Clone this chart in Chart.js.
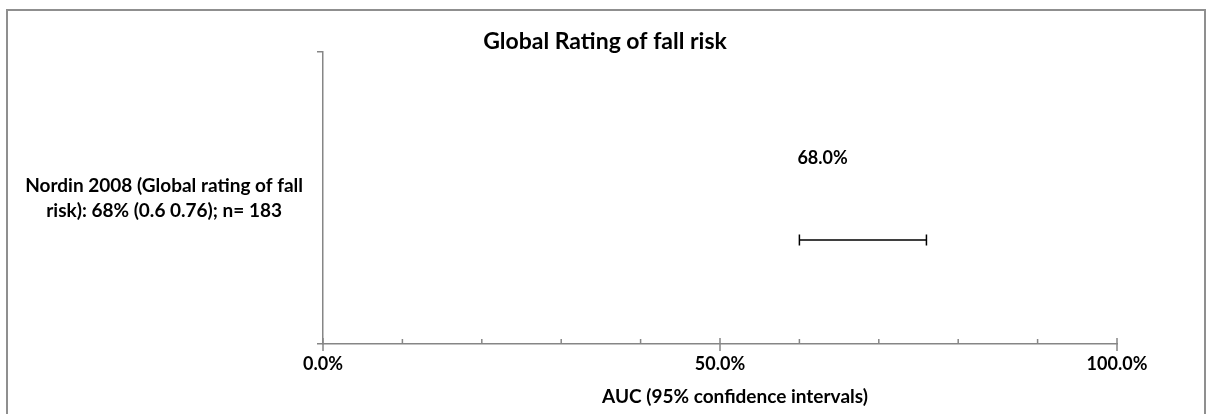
<!DOCTYPE html>
<html>
<head>
<meta charset="utf-8">
<script src="https://cdn.jsdelivr.net/npm/chart.js@4.4.1/dist/chart.umd.min.js"></script>
<style>
  html, body { margin: 0; padding: 0; background: #ffffff; }
  #wrap { width: 1210px; height: 414px; position: relative; }
</style>
</head>
<body>
<div id="wrap"><canvas id="chart" width="1210" height="414"></canvas></div>
<script>
// Study rows (multi-line y labels), AUC point estimates and 95% CI bounds
const categories = [['Nordin 2008 (Global rating of fall', 'risk): 68% (0.6 0.76); n= 183']];
const aucValues = [0.68];
const ciLower = [0.60];
const ciUpper = [0.76];

// Labelled x ticks; unlabelled minor ticks every 10%
const xTickValues = [0, 0.5, 1];
const xTickLabels = ['0.0%', '50.0%', '100.0%'];
const xMinorStep = 0.1;
const xAxisTitle = 'AUC (95% confidence intervals)';

const FONT = 'Lato, "Open Sans", sans-serif';
const AXIS_GREY = '#868686';

// Frame, CI whiskers, value labels, x tick marks and x axis title
const forestDecor = {
  id: 'forestDecor',
  beforeDraw(chart) {
    const ctx = chart.ctx;
    ctx.save();
    ctx.fillStyle = '#ffffff';
    ctx.fillRect(0, 0, chart.width, chart.height);
    ctx.strokeStyle = '#8f8f8f';
    ctx.lineWidth = 2;
    ctx.strokeRect(7, 10, 1198, 420);
    ctx.restore();
  },
  afterDatasetsDraw(chart, args, opts) {
    const ctx = chart.ctx;
    const xs = chart.scales.x;
    const ys = chart.scales.y;
    ctx.save();
    categories.forEach((_, i) => {
      const cy = ys.getPixelForValue(i);
      const wy = cy + opts.whiskerOffset;
      const x1 = xs.getPixelForValue(ciLower[i]);
      const x2 = xs.getPixelForValue(ciUpper[i]);
      ctx.strokeStyle = '#000000';
      ctx.lineWidth = 1.5;
      ctx.beginPath();
      ctx.moveTo(x1, wy); ctx.lineTo(x2, wy);
      ctx.moveTo(x1, wy - opts.capHalf); ctx.lineTo(x1, wy + opts.capHalf);
      ctx.moveTo(x2, wy - opts.capHalf); ctx.lineTo(x2, wy + opts.capHalf);
      ctx.stroke();

      ctx.fillStyle = '#000000';
      ctx.font = 'bold 18px ' + FONT;
      ctx.textAlign = 'left';
      ctx.textBaseline = 'middle';
      ctx.fillText((aucValues[i] * 100).toFixed(1) + '%', x1 - 2, cy + opts.labelOffset);
    });

    // x tick marks: labelled ones cross the axis, minor ones sit inside
    const base = xs.top;
    ctx.strokeStyle = AXIS_GREY;
    ctx.lineWidth = 1.5;
    ctx.beginPath();
    xs.ticks.forEach(t => {
      const px = xs.getPixelForValue(t.value);
      const major = xTickValues.some(v => Math.abs(v - t.value) < 1e-9);
      if (major) { ctx.moveTo(px, base - 6); ctx.lineTo(px, base + 7); }
      else { ctx.moveTo(px, base - 5); ctx.lineTo(px, base); }
    });
    ctx.stroke();

    // axis title, set slightly right of the plot centre
    ctx.fillStyle = '#000000';
    ctx.font = 'bold 19px ' + FONT;
    ctx.textAlign = 'center';
    ctx.textBaseline = 'middle';
    ctx.fillText(xAxisTitle, (xs.left + xs.right) / 2 + opts.titleShift, xs.bottom - opts.titleRise);
    ctx.restore();
  }
};

new Chart(document.getElementById('chart'), {
  type: 'scatter',
  data: {
    datasets: [{
      data: aucValues.map((v, i) => ({ x: v, y: i })),
      pointRadius: 0,
      pointHoverRadius: 0,
      showLine: false
    }]
  },
  options: {
    responsive: false,
    animation: false,
    devicePixelRatio: 1,
    layout: { padding: { left: 0, right: 0, top: 0, bottom: 0 } },
    plugins: {
      legend: { display: false },
      tooltip: { enabled: false },
      title: {
        display: true,
        text: 'Global Rating of fall risk',
        color: '#000000',
        font: { family: FONT, size: 23, weight: 'bold', lineHeight: 0.9 },
        padding: { top: 31.5, bottom: 0 }
      },
      forestDecor: { whiskerOffset: 42, labelOffset: -40, capHalf: 5.5, titleShift: 15, titleRise: 17 }
    },
    scales: {
      x: {
        type: 'linear',
        min: 0,
        max: 1,
        afterFit(s) { s.height = 70; },
        border: { display: true, color: AXIS_GREY, width: 1.5 },
        grid: { display: true, drawOnChartArea: false, drawTicks: false },
        ticks: {
          stepSize: xMinorStep,
          autoSkip: false,
          maxRotation: 0,
          padding: 9,
          color: '#000000',
          font: { family: FONT, size: 18, weight: 'bold' },
          callback(v) {
            const k = xTickValues.findIndex(t => Math.abs(t - v) < 1e-9);
            return k >= 0 ? xTickLabels[k] : '';
          }
        },
        title: { display: false }
      },
      y: {
        type: 'category',
        labels: categories,
        offset: true,
        afterFit(s) { s.width = 323; },
        border: { display: true, color: AXIS_GREY, width: 1.5 },
        grid: { display: true, offset: true, drawOnChartArea: false, drawTicks: true, tickLength: 6, color: AXIS_GREY, lineWidth: 1.5 },
        ticks: {
          crossAlign: 'center',
          padding: 14,
          color: '#000000',
          font: { family: FONT, size: 19, weight: 'bold', lineHeight: 1.3 }
        }
      },
      // empty right-hand gutter keeping the plot clear of the frame
      gutter: {
        type: 'category',
        position: 'right',
        labels: [''],
        afterFit(s) { s.width = 93; },
        border: { display: false },
        grid: { display: false, drawTicks: false },
        ticks: { display: false }
      }
    }
  },
  plugins: [forestDecor]
});
</script>
</body>
</html>
